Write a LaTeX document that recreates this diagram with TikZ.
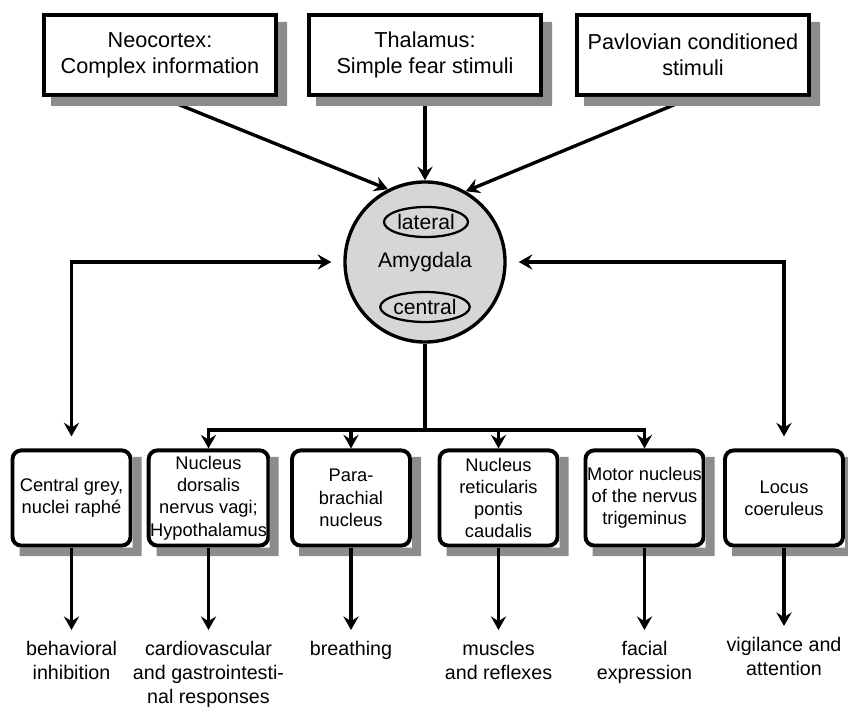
\documentclass[tikz,border=0pt]{standalone}
\usepackage{fontspec}
\setmainfont{Liberation Sans}
\usetikzlibrary{arrows.meta,shapes.geometric,positioning}

\definecolor{shadowgrey}{RGB}{140,140,140}
\definecolor{amyfill}{RGB}{214,214,214}

\tikzset{
    srcbox/.style={draw, line width=2.8pt, fill=white, minimum width=5.8cm, minimum height=2.0cm,
        align=center, inner sep=1pt, font=\fontsize{15.4}{18.5}\selectfont},
    nucbox/.style={draw, line width=2.8pt, fill=white, rounded corners=0.22cm, minimum width=2.95cm,
        minimum height=2.38cm, align=center, inner sep=1pt, font=\fontsize{13}{15.8}\selectfont},
    boxshade/.style={fill=shadowgrey},
    part/.style={ellipse, draw, line width=1.6pt, minimum width=2.1cm, minimum height=0.75cm,
        inner sep=0pt, font=\fontsize{15}{18}\selectfont},
    outlbl/.style={align=center, anchor=north, inner xsep=2pt, inner ysep=8pt, font=\fontsize{14}{17}\selectfont},
    conn/.style={line width=2.4pt},
    arr/.style={conn, -{Stealth[length=0.34cm, width=0.38cm, inset=0.12cm]}},
    biarr/.style={conn, {Stealth[length=0.34cm, width=0.38cm, inset=0.12cm]}-{Stealth[length=0.34cm, width=0.38cm, inset=0.12cm]},
        shorten <=0.3cm, shorten >=0.3cm},
}

\begin{document}
\begin{tikzpicture}[x=0.025cm, y=-0.025cm]
    \useasboundingbox (0,0) rectangle (848,707);

    % Sources
    \node[srcbox] (neo) at (160,55) {Neocortex:\\Complex information};
    \node[srcbox] (thal) at (425,55) {Thalamus:\\Simple fear stimuli};
    \node[srcbox] (pav) at (693,55) {Pavlovian conditioned\\stimuli};

    % Amygdala
    \node[circle, draw, line width=2.4pt, fill=amyfill, minimum size=4cm] (amy) at (425,262) {};
    \node[font=\fontsize{15}{18}\selectfont] (amytxt) at (amy.center) {Amygdala};
    \node[part] (lat) at (426,222) {lateral};
    \node[part] (cen) at (425,307) {central};

    % Inputs
    \draw[arr] (neo.south) -- (amy.117);
    \draw[arr] (thal.south) -- (amy.north);
    \draw[arr] (pav.south) -- (amy.60);

    % Target nuclei
    \node[nucbox] (b1) at (71.5,498) {Central grey,\\nuclei raphé};
    \node[nucbox] (b2) at (208.5,498) {Nucleus\\dorsalis\\nervus vagi;\\Hypothalamus};
    \node[nucbox] (b3) at (351,498) {Para-\\brachial\\nucleus};
    \node[nucbox] (b4) at (498.5,498) {Nucleus\\reticularis\\pontis\\caudalis};
    \node[nucbox] (b5) at (644.5,498) {Motor nucleus\\of the nervus\\trigeminus};
    \node[nucbox] (b6) at (784,498) {Locus\\coeruleus};

    % Shadows
    \foreach \sx in {160,425,693}
        \fill[boxshade] (\sx+118,22) -- (\sx+127,22) -- (\sx+127,106) -- (\sx-109,106)
            -- (\sx-109,97) -- (\sx+118,97) -- cycle;
    \foreach \sx in {71.5,208.5,351,498.5,644.5,784}
        \fill[boxshade] (\sx+61,457) -- (\sx+70,457) -- (\sx+70,556) -- (\sx-52,556)
            -- (\sx-52,547.5) -- (\sx+61,547.5) -- cycle;

    % Two-way links
    \draw[biarr] (amy.west) -| (b1.north);
    \draw[biarr] (amy.east) -| (b6.north);

    % Output tree from central nucleus
    \coordinate (bus) at (425,430);
    \draw[conn] (amy.south) -- (bus);
    \draw[arr] (bus) -| (b2.north);
    \draw[arr] (bus) -| (b5.north);
    \foreach \b in {b3,b4}
        \draw[arr] (\b.north |- bus) -- (\b.north);

    % Responses
    \node[outlbl] (o1) at (71.5,630) {behavioral\\inhibition};
    \node[outlbl] (o2) at (208.5,630) {cardiovascular\\and gastrointesti-\\nal responses};
    \node[outlbl] (o3) at (351,630) {breathing};
    \node[outlbl] (o4) at (498.5,630) {muscles\\and reflexes};
    \node[outlbl] (o5) at (644.5,630) {facial\\expression};
    \node[outlbl] (o6) at (784,626) {vigilance and\\attention};

    \foreach \i in {1,...,6}
        \draw[arr] (b\i.south) -- (o\i.north);
\end{tikzpicture}
\end{document}
